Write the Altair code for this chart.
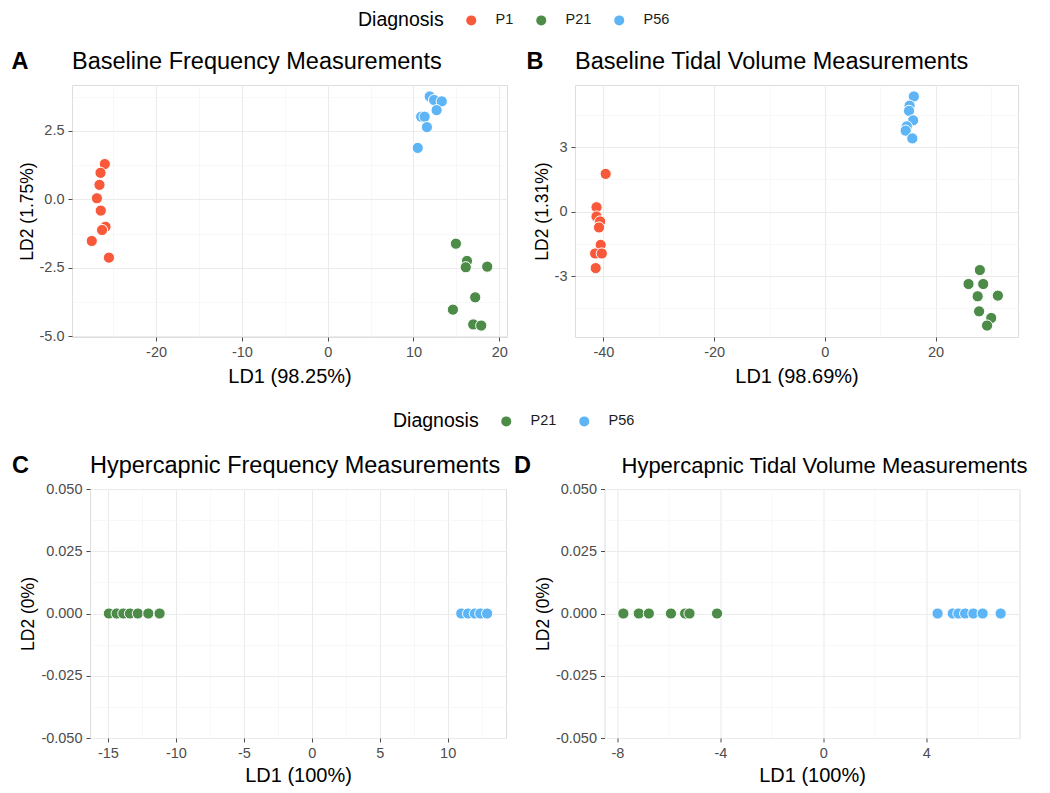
import json
import altair as alt
import pandas as pd

FONT = "Liberation Sans"
RED, GREEN, BLUE = "#F8593B", "#4C8B48", "#5DB5F6"

# ---------------- data ----------------
# Panel A: Baseline Frequency
a_p1_ld1 = [-25.98, -26.48, -26.6, -26.9, -26.45, -25.9, -26.3, -27.5, -25.5]
a_p1_ld2 = [1.29, 0.97, 0.53, 0.04, -0.41, -1.0, -1.12, -1.52, -2.13]
a_p21_ld1 = [14.95, 16.24, 16.1, 18.6, 17.2, 14.6, 16.97, 17.9]
a_p21_ld2 = [-1.62, -2.25, -2.48, -2.46, -3.58, -4.03, -4.57, -4.61]
a_p56_ld1 = [11.9, 12.4, 13.3, 12.7, 10.9, 11.3, 11.57, 10.5]
a_p56_ld2 = [3.76, 3.63, 3.58, 3.26, 3.02, 3.02, 2.64, 1.88]

# Panel B: Baseline Tidal Volume
b_p1_ld1 = [-39.6, -41.25, -41.25, -40.6, -40.8, -40.5, -41.5, -40.3, -41.4]
b_p1_ld2 = [1.75, 0.2, -0.23, -0.46, -0.74, -1.55, -1.95, -1.95, -2.63]
b_p21_ld1 = [28.0, 25.95, 28.6, 27.6, 31.25, 27.86, 30.05, 29.3]
b_p21_ld2 = [-2.72, -3.37, -3.37, -3.94, -3.91, -4.64, -4.95, -5.3]
b_p56_ld1 = [16.07, 15.3, 15.2, 15.95, 14.8, 14.6, 15.8]
b_p56_ld2 = [5.35, 4.92, 4.68, 4.24, 3.96, 3.76, 3.4]

# Panel C: Hypercapnic Frequency
c_p21_ld1 = [-14.93, -14.36, -13.87, -13.38, -12.8, -12.03, -11.2]
c_p56_ld1 = [11.0, 11.5, 12.0, 12.4, 12.9]

# Panel D: Hypercapnic Tidal Volume
d_p21_ld1 = [-7.77, -7.17, -6.78, -5.92, -5.37, -5.2, -4.13]
d_p56_ld1 = [4.44, 5.03, 5.25, 5.51, 5.83, 6.19, 6.89]

titles = ["Baseline Frequency Measurements", "Baseline Tidal Volume Measurements",
          "Hypercapnic Frequency Measurements", "Hypercapnic Tidal Volume Measurements"]
letters = ["A", "B", "C", "D"]
x_titles = ["LD1 (98.25%)", "LD1 (98.69%)", "LD1 (100%)", "LD1 (100%)"]
y_titles = ["LD2 (1.75%)", "LD2 (1.31%)", "LD2 (0%)", "LD2 (0%)"]
legend_top = ["P1", "P21", "P56"]
legend_bottom = ["P21", "P56"]


def frame(groups):
    rows = []
    for name, xs, ys in groups:
        for x, y in zip(xs, ys):
            rows.append({"LD1": x, "LD2": y, "Diagnosis": name})
    return pd.DataFrame(rows)


df_a = frame([("P1", a_p1_ld1, a_p1_ld2), ("P21", a_p21_ld1, a_p21_ld2), ("P56", a_p56_ld1, a_p56_ld2)])
df_b = frame([("P1", b_p1_ld1, b_p1_ld2), ("P21", b_p21_ld1, b_p21_ld2), ("P56", b_p56_ld1, b_p56_ld2)])
df_c = frame([("P21", c_p21_ld1, [0.0] * len(c_p21_ld1)), ("P56", c_p56_ld1, [0.0] * len(c_p56_ld1))])
df_d = frame([("P21", d_p21_ld1, [0.0] * len(d_p21_ld1)), ("P56", d_p56_ld1, [0.0] * len(d_p56_ld1))])


def expand(vals, mult=0.05):
    lo, hi = min(vals), max(vals)
    r = hi - lo
    return [lo - r * mult, hi + r * mult]


def axis(majors, minors, fmt, title, orient, title_pad):
    maj = "indexof(%s, datum.value) >= 0" % json.dumps(majors)
    is_x = orient == "bottom"
    return alt.Axis(
        values=sorted(majors + minors), format=fmt, title=title, orient=orient,
        labelExpr=f"{maj} ? replace(datum.label, '\u2212', '-') : ''",
        grid=True,
        gridColor={"condition": {"test": maj, "value": "#EBEBEB"}, "value": "#F4F4F4"},
        gridWidth={"condition": {"test": maj, "value": 1.1}, "value": 0.6},
        tickOpacity={"condition": {"test": maj, "value": 1}, "value": 0},
        ticks=True, tickSize=4, tickColor="#4d4d4d", tickWidth=1, domain=False,
        labelFont=FONT, labelFontSize=14.5, labelColor="#4d4d4d", labelPadding=4,
        labelFlush=False, labelOverlap=False,
        titleFont=FONT, titleFontSize=20 if is_x else 17.5, titleColor="black",
        titleFontWeight="normal", titlePadding=title_pad,
    )


def panel(df, i, xmaj, xmin, ymaj, ymin, xfmt, yfmt, ydom, width, height,
          cdom, crange, letter_x, title_dx=0, title_size=23.5, xpad=8):
    pts = alt.Chart(df).mark_circle(size=125, opacity=1, stroke="white", strokeWidth=1).encode(
        x=alt.X("LD1:Q", scale=alt.Scale(domain=expand(df["LD1"].tolist()), nice=False, zero=False),
                axis=axis(xmaj, xmin, xfmt, x_titles[i], "bottom", xpad)),
        y=alt.Y("LD2:Q", scale=alt.Scale(domain=ydom, nice=False, zero=False),
                axis=axis(ymaj, ymin, yfmt, y_titles[i], "left", 3)),
        color=alt.Color("Diagnosis:N", scale=alt.Scale(domain=cdom, range=crange), legend=None),
    )
    let = alt.Chart(pd.DataFrame({"t": [letters[i]]})).mark_text(
        font=FONT, fontSize=23.5, fontWeight="bold", align="center", baseline="middle", color="black"
    ).encode(text="t:N", x=alt.value(letter_x), y=alt.value(-23))
    ttl = alt.Chart(pd.DataFrame({"t": [titles[i]]})).mark_text(
        font=FONT, fontSize=title_size, fontWeight="normal", align="left", baseline="middle", color="black"
    ).encode(text="t:N", x=alt.value(title_dx), y=alt.value(-23))
    return alt.layer(pts, let, ttl).properties(width=width, height=height)


def legend_chart(labels, colors, x, width):
    leg = alt.Legend(
        orient="none", legendX=x, legendY=2, direction="horizontal", titleOrient="left",
        title="Diagnosis", titleFont=FONT, titleFontSize=19.5, titleFontWeight="normal",
        titleColor="black", titlePadding=20, titleBaseline="middle",
        labelFont=FONT, labelFontSize=14.5, labelColor="#1a1a1a", labelOffset=17,
        symbolType="circle", symbolSize=100, symbolStrokeWidth=0, symbolOpacity=1,
        columnPadding=20,
    )
    return alt.Chart(pd.DataFrame({"Diagnosis": labels})).mark_circle(opacity=0).encode(
        color=alt.Color("Diagnosis:N", scale=alt.Scale(domain=labels, range=colors), legend=leg)
    ).properties(width=width, height=1, view=alt.ViewBackground(stroke="transparent"))


def spacer():
    # empty 1px view so that each row starts at the page's left edge
    return alt.Chart(pd.DataFrame({"v": [0]})).mark_rect(opacity=0).encode(
        x=alt.value(0), x2=alt.value(1), y=alt.value(0), y2=alt.value(1)
    ).properties(width=1, height=1, view=alt.ViewBackground(stroke="transparent"))


ydom_a = expand(df_a["LD2"].tolist())
ydom_b = expand(df_b["LD2"].tolist())

pa = panel(df_a, 0, [-20, -10, 0, 10, 20], [-25, -15, -5, 5, 15],
           [-5.0, -2.5, 0.0, 2.5], [-3.75, -1.25, 1.25, 3.75], "d", ".1f", ydom_a, 435, 252,
           legend_top, [RED, GREEN, BLUE], -52)
pb = panel(df_b, 1, [-40, -20, 0, 20], [-30, -10, 10, 30],
           [-3, 0, 3], [-4.5, -1.5, 1.5, 4.5], "d", "d", ydom_b, 443, 252,
           legend_top, [RED, GREEN, BLUE], -40)
pc = panel(df_c, 2, [-15, -10, -5, 0, 5, 10], [-12.5, -7.5, -2.5, 2.5, 7.5, 12.5],
           [-0.05, -0.025, 0.0, 0.025, 0.05], [-0.0375, -0.0125, 0.0125, 0.0375], "d", ".3f",
           [-0.05, 0.05], 416, 249, legend_bottom, [GREEN, BLUE], -69.5, xpad=6)
pd_ = panel(df_d, 3, [-8, -4, 0, 4], [-6, -2, 2, 6],
            [-0.05, -0.025, 0.0, 0.025, 0.05], [-0.0375, -0.0125, 0.0125, 0.0375], "d", ".3f",
            [-0.05, 0.05], 415, 249, legend_bottom, [GREEN, BLUE], -82, title_dx=17, title_size=22,
            xpad=6)

leg1 = legend_chart(legend_top, [RED, GREEN, BLUE], 349, 1000)
leg2 = legend_chart(legend_bottom, [GREEN, BLUE], 384, 1000)

row1 = alt.hconcat(spacer(), alt.hconcat(pa, pb, spacing=18).resolve_scale(color="independent"),
                   spacing=0).resolve_scale(color="independent")
row2 = alt.hconcat(spacer(), alt.hconcat(pc, pd_, spacing=6.5).resolve_scale(color="independent"),
                   spacing=0).resolve_scale(color="independent")

top_half = alt.vconcat(leg1, row1, spacing=18).resolve_scale(color="independent")
bottom_half = alt.vconcat(leg2, row2, spacing=21).resolve_scale(color="independent")

chart = alt.vconcat(top_half, bottom_half, spacing=22).resolve_scale(color="independent").properties(
    padding=0
).configure_view(stroke="#8a8a8a", strokeWidth=1).configure(background="white")

chart.save("out.html", embed_options={"renderer": "svg", "actions": False})
